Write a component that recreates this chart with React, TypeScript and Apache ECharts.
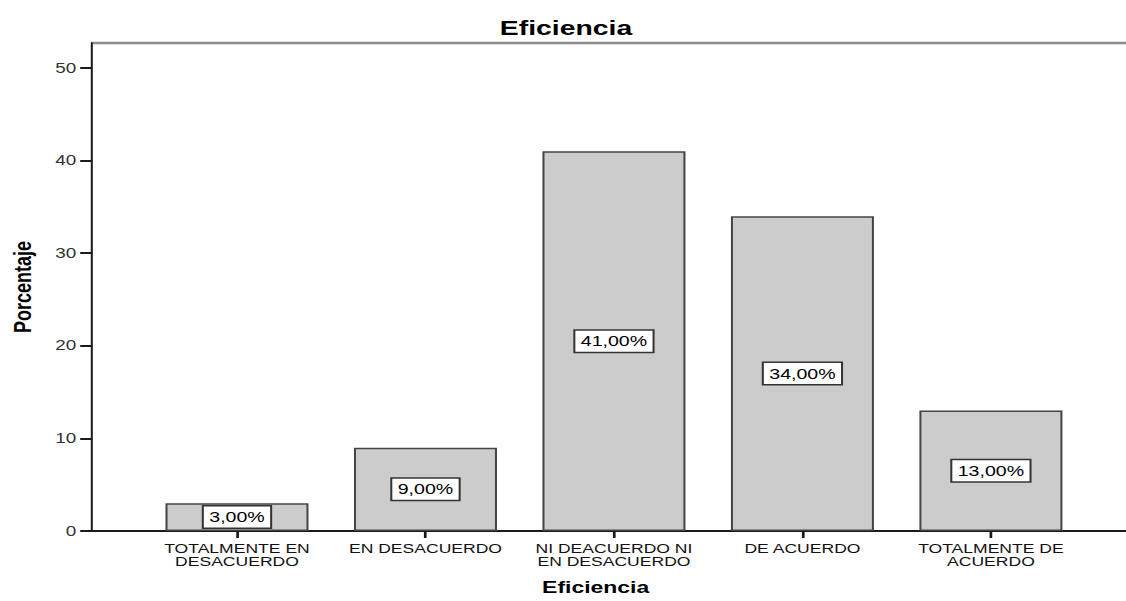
import React, { useEffect, useRef } from "react";
import * as echarts from "echarts";

const categories = [
  "TOTALMENTE EN\nDESACUERDO",
  "EN DESACUERDO",
  "NI DEACUERDO NI\nEN DESACUERDO",
  "DE ACUERDO",
  "TOTALMENTE DE\nACUERDO",
];
const percentages = [3, 9, 41, 34, 13];
const yTicks = [0, 10, 20, 30, 40, 50];
const chartTitle = "Eficiencia";
const xName = "Eficiencia";
const yName = "Porcentaje";

// horizontal stretch of the reference rendering
const S = 1.35;
const FULL_W = 1126;
const FULL_H = 601;
const W = FULL_W / S;
const X = (realX: number) => realX / S;
const FONT = "'Liberation Sans', Arial, sans-serif";

export default function App() {
  const ref = useRef<HTMLDivElement>(null);

  useEffect(() => {
    if (!ref.current) return;
    const chart = echarts.init(ref.current, undefined, { renderer: "svg" });
    const catIdx = categories.map((_, i) => i);
    chart.setOption({
      animation: false,
      backgroundColor: "#ffffff",
      title: {
        text: chartTitle,
        left: X(566),
        top: 17,
        padding: 0,
        textAlign: "center",
        textStyle: { fontFamily: FONT, fontSize: 21, fontWeight: "bold", color: "#000" },
      },
      grid: { left: X(91), right: 0, top: 43, bottom: FULL_H - 535, containLabel: false },
      xAxis: {
        type: "value",
        min: (91 - 237) / 188.5,
        max: (FULL_W - 237) / 188.5,
        name: xName,
        nameLocation: "middle",
        nameGap: 48,
        nameTextStyle: {
          fontFamily: FONT,
          fontSize: 17,
          fontWeight: "bold",
          color: "#000",
          padding: [0, 19, 0, 0],
        },
        axisLine: { show: true, onZero: false, lineStyle: { color: "#1a1a1a", width: 2 } },
        axisTick: {
          show: true,
          customValues: catIdx,
          length: 7,
          lineStyle: { color: "#1a1a1a", width: 2 },
        },
        axisLabel: {
          customValues: catIdx,
          formatter: (v: number) => categories[Math.round(v)] ?? "",
          fontFamily: FONT,
          fontSize: 13,
          lineHeight: 13,
          color: "#111",
          margin: 11,
        },
        splitLine: { show: false },
      },
      yAxis: {
        type: "value",
        min: 0,
        max: 52.7,
        interval: 10,
        name: yName,
        nameLocation: "middle",
        nameGap: 41,
        nameTextStyle: { fontFamily: FONT, fontSize: 18, fontWeight: "bold", color: "#000" },
        axisLine: { show: true, onZero: false, lineStyle: { color: "#1a1a1a", width: 1.5 } },
        axisTick: {
          show: true,
          customValues: yTicks,
          length: 8,
          lineStyle: { color: "#1a1a1a", width: 2 },
        },
        axisLabel: {
          customValues: yTicks,
          fontFamily: FONT,
          fontSize: 14,
          color: "#333",
          margin: 11,
        },
        splitLine: { show: false },
      },
      graphic: [
        {
          type: "line",
          shape: { x1: X(91), y1: 43, x2: W, y2: 43 },
          style: { stroke: "#8c8c8c", lineWidth: 2.5 },
          silent: true,
        },
      ],
      series: [
        {
          type: "bar",
          data: percentages.map((v, i) => [i, v]),
          barWidth: X(143),
          itemStyle: { color: "#cccccc", borderColor: "#444", borderWidth: 1.5 },
          label: {
            show: true,
            position: "inside",
            formatter: (p: any) => p.value[1].toFixed(2).replace(".", ",") + "%",
            fontFamily: FONT,
            fontSize: 14.5,
            color: "#000",
            backgroundColor: "#ffffff",
            borderColor: "#333",
            borderWidth: 1.5,
            padding: [3, 4, 3, 4],
          },
        },
      ],
    });
    return () => chart.dispose();
  }, []);

  return (
    <div
      style={{
        position: "fixed",
        left: 0,
        top: 0,
        width: FULL_W,
        height: FULL_H,
        overflow: "hidden",
        background: "#fff",
      }}
    >
      <div
        ref={ref}
        style={{
          width: W,
          height: FULL_H,
          transform: `scaleX(${S})`,
          transformOrigin: "0 0",
        }}
      />
    </div>
  );
}
